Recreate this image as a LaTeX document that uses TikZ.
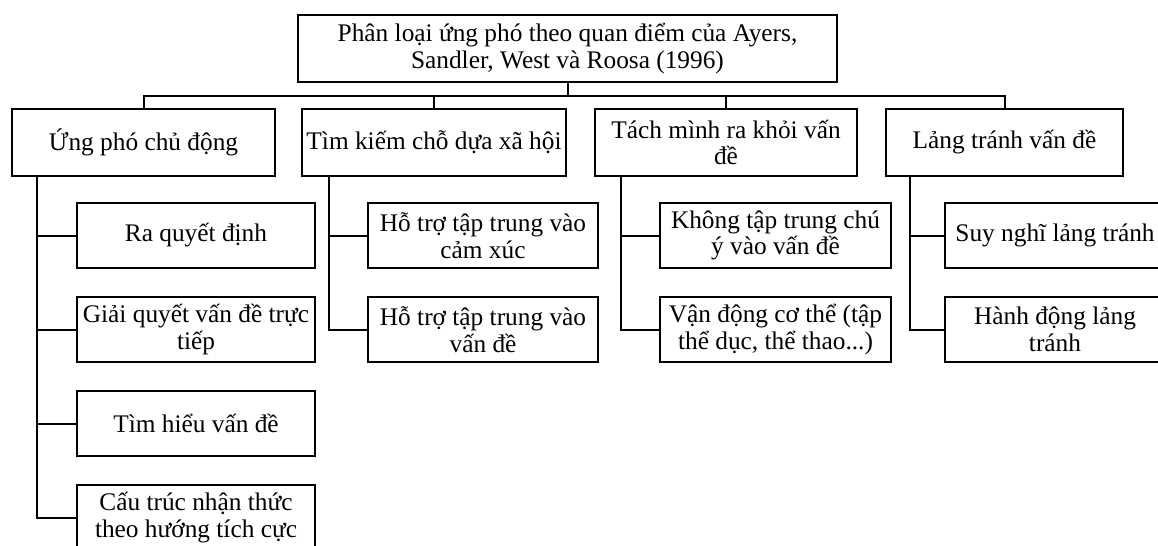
\documentclass[tikz,border=0pt]{standalone}
\usepackage{fontspec}
\setmainfont{Liberation Serif}
\begin{document}
\begin{tikzpicture}[x=0.75pt,y=-0.75pt,
  box/.style={draw, line width=1.5pt, inner sep=0pt, align=center,
    font=\fontsize{19}{20}\selectfont},
  lvl/.style={box, minimum height=50.25pt},
  leaf/.style={box, minimum height=48.75pt},
  conn/.style={line width=1.5pt}]
\clip (0,0) rectangle (1158,546);

% root
\node[box, minimum width=404.25pt, minimum height=50.25pt] (top) at (567.5,48.5)
  {Phân loại ứng phó theo quan điểm của Ayers,\\Sandler, West và Roosa (1996)};

% first level
\node[lvl, minimum width=197.25pt] (b1) at (143.5,142.5) {Ứng phó chủ động};
\node[lvl, minimum width=198pt]    (b2) at (434,142.5)   {Tìm kiếm chỗ dựa xã hội};
\node[lvl, minimum width=196.5pt]  (b3) at (726,142.5)   {Tách mình ra khỏi vấn\\đề};
\node[lvl, minimum width=177.75pt] (b4) at (1004.5,142.5) {Lảng tránh vấn đề};

% second level
\node[leaf, minimum width=178.5pt] (c11) at (196,235.5) {Ra quyết định};
\node[leaf, minimum width=178.5pt] (c12) at (196,329.5) {Giải quyết vấn đề trực\\tiếp};
\node[leaf, minimum width=178.5pt] (c13) at (196,423.5) {Tìm hiểu vấn đề};
\node[leaf, minimum width=178.5pt] (c14) at (196,517.5) {Cấu trúc nhận thức\\theo hướng tích cực};

\node[leaf, minimum width=172.5pt] (c21) at (483,235.5) {Hỗ trợ tập trung vào\\cảm xúc};
\node[leaf, minimum width=172.5pt] (c22) at (483,329.5) {Hỗ trợ tập trung vào\\vấn đề};

\node[leaf, minimum width=173.25pt] (c31) at (775.5,235.5) {Không tập trung chú\\ý vào vấn đề};
\node[leaf, minimum width=173.25pt] (c32) at (775.5,329.5) {Vận động cơ thể (tập\\thể dục, thể thao...)};

\node[leaf, minimum width=165pt] (c41) at (1055,235.5) {Suy nghĩ lảng tránh};
\node[leaf, minimum width=165pt] (c42) at (1055,329.5) {Hành động lảng\\tránh};

% bus from the root to the first level
\coordinate (bus) at (0,96);
\draw[conn] (top.south) -- (top.south |- bus);
\draw[conn] (b1.north) |- (b4.north |- bus) -- (b4.north);
\draw[conn] (b2.north) -- (b2.north |- bus);
\draw[conn] (b3.north) -- (b3.north |- bus);

% spines down the left side of each group
\coordinate (s1) at (37,0);
\coordinate (s2) at (329,0);
\coordinate (s3) at (621,0);
\coordinate (s4) at (910,0);

\draw[conn] (b1.south -| s1) |- (c14.west);
\draw[conn] (c11.west) -- (c11.west -| s1);
\draw[conn] (c12.west) -- (c12.west -| s1);
\draw[conn] (c13.west) -- (c13.west -| s1);

\draw[conn] (b2.south -| s2) |- (c22.west);
\draw[conn] (c21.west) -- (c21.west -| s2);

\draw[conn] (b3.south -| s3) |- (c32.west);
\draw[conn] (c31.west) -- (c31.west -| s3);

\draw[conn] (b4.south -| s4) |- (c42.west);
\draw[conn] (c41.west) -- (c41.west -| s4);
\end{tikzpicture}
\end{document}
